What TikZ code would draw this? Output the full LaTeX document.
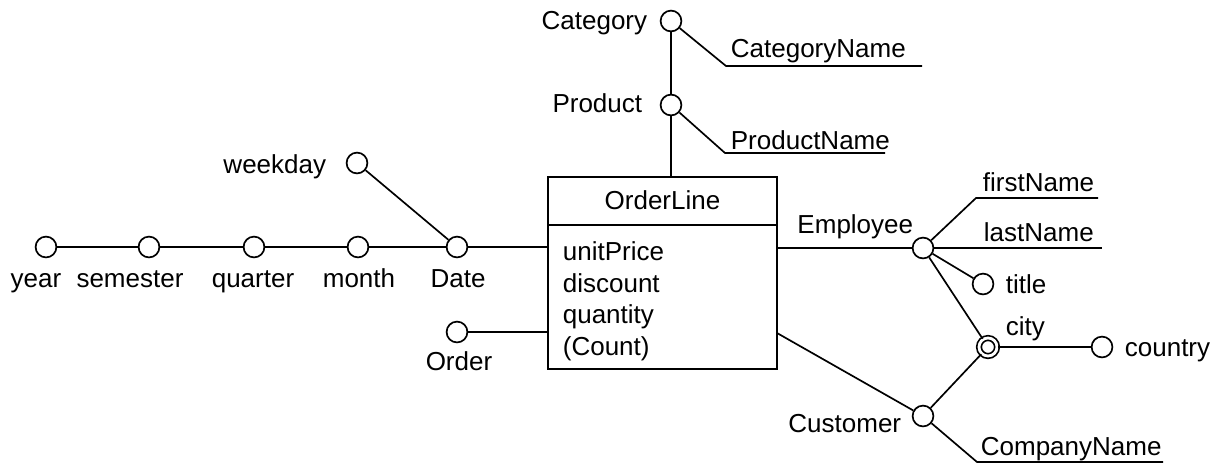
\documentclass[tikz,border=0pt]{standalone}
\usepackage{fontspec}
\setmainfont{Liberation Sans}
\usepackage{tikz}

\begin{document}
\begin{tikzpicture}[x=0.025cm, y=-0.025cm, line width=1.2pt,
    every node/.style={font=\fontsize{18.5}{22}\selectfont},
    lbl/.style={inner sep=0pt},
    attr/.style={circle, draw, fill=white, inner sep=0pt, minimum size=0.52cm},
    dimattr/.style={attr, double, double distance=2pt, minimum size=0.45cm}]
  \useasboundingbox (0,0) rectangle (1223,463);
  % fact box
  \node[draw, minimum width=5.725cm, minimum height=4.8cm, inner sep=0pt] (fact) at (662.5,273) {};
  \draw (fact.west |- 0,225) -- (fact.east |- 0,225);
  \node[lbl, anchor=base] (factname) at (662.5,209) {OrderLine};
  \foreach \m/\yy in {unitPrice/260, discount/292, quantity/323, (Count)/355}
    \node[lbl, anchor=base west] at (562,\yy) {\m};
  % time hierarchy
  \node[attr] (year) at (46,247) {};
  \node[attr] (semester) at (149,247) {};
  \node[attr] (quarter) at (254,247) {};
  \node[attr] (month) at (358,247) {};
  \node[attr] (date) at (457,247) {};
  \node[attr] (weekday) at (357,163) {};
  \draw (year) -- (semester) -- (quarter) -- (month) -- (date);
  \draw (date) -- (date -| fact.west);
  \draw (weekday) -- (date);
  \node[lbl, anchor=base] (yearlbl) at (36,287) {year};
  \node[lbl, anchor=base] (semesterlbl) at (130,287) {semester};
  \node[lbl, anchor=base] (quarterlbl) at (253,287) {quarter};
  \node[lbl, anchor=base] (monthlbl) at (359,287) {month};
  \node[lbl, anchor=base] (datelbl) at (458,287) {Date};
  \node[lbl, anchor=base east] (weekdaylbl) at (327,173) {weekday};
  % order
  \node[attr] (order) at (457,332) {};
  \draw (order) -- (order -| fact.west);
  \node[lbl, anchor=base] (orderlbl) at (459,370) {Order};
  % product hierarchy
  \node[attr] (product) at (671,105) {};
  \node[attr] (category) at (671,21) {};
  \draw (product) -- (product |- fact.north);
  \draw (category) -- (product);
  \coordinate (catname) at (726,66);
  \coordinate (prodname) at (725,153);
  \draw (category) -- (catname) -- (922,66);
  \draw (product) -- (prodname) -- (885,153);
  \node[lbl, anchor=base east] (categorylbl) at (648,29) {Category};
  \node[lbl, anchor=base east] (productlbl) at (643,112) {Product};
  \node[lbl, anchor=base west] (catnamelbl) at (730,57) {CategoryName};
  \node[lbl, anchor=base west] (prodnamelbl) at (730,149) {ProductName};
  % employee and customer
  \node[attr] (employee) at (923,248) {};
  \node[attr] (title) at (983,284) {};
  \node[dimattr] (city) at (988,347) {};
  \node[attr] (country) at (1102,347) {};
  \node[attr] (customer) at (923,416) {};
  \coordinate (custport) at (777,333);
  \coordinate (firstname) at (976,198);
  \coordinate (compname) at (977,462);
  \draw (employee) -- (employee -| fact.east);
  \draw (customer) -- (custport);
  \draw (employee) -- (firstname) -- (1098,198);
  \draw (employee) -- (1102,248);
  \draw (employee) -- (title);
  \draw (employee) -- (city);
  \draw (city) -- (country);
  \draw (city) -- (customer);
  \draw (customer) -- (compname) -- (1163,462);
  \node[lbl, anchor=base east] (employeelbl) at (914,233) {Employee};
  \node[lbl, anchor=base west] (firstnamelbl) at (982,191) {firstName};
  \node[lbl, anchor=base west] (lastnamelbl) at (983,241) {lastName};
  \node[lbl, anchor=base west] (titlelbl) at (1005,293) {title};
  \node[lbl, anchor=base west] (citylbl) at (1005,335) {city};
  \node[lbl, anchor=base west] (countrylbl) at (1124,356) {country};
  \node[lbl, anchor=base east] (customerlbl) at (902,432) {Customer};
  \node[lbl, anchor=base west] (compnamelbl) at (980,455) {CompanyName};
\end{tikzpicture}
\end{document}
